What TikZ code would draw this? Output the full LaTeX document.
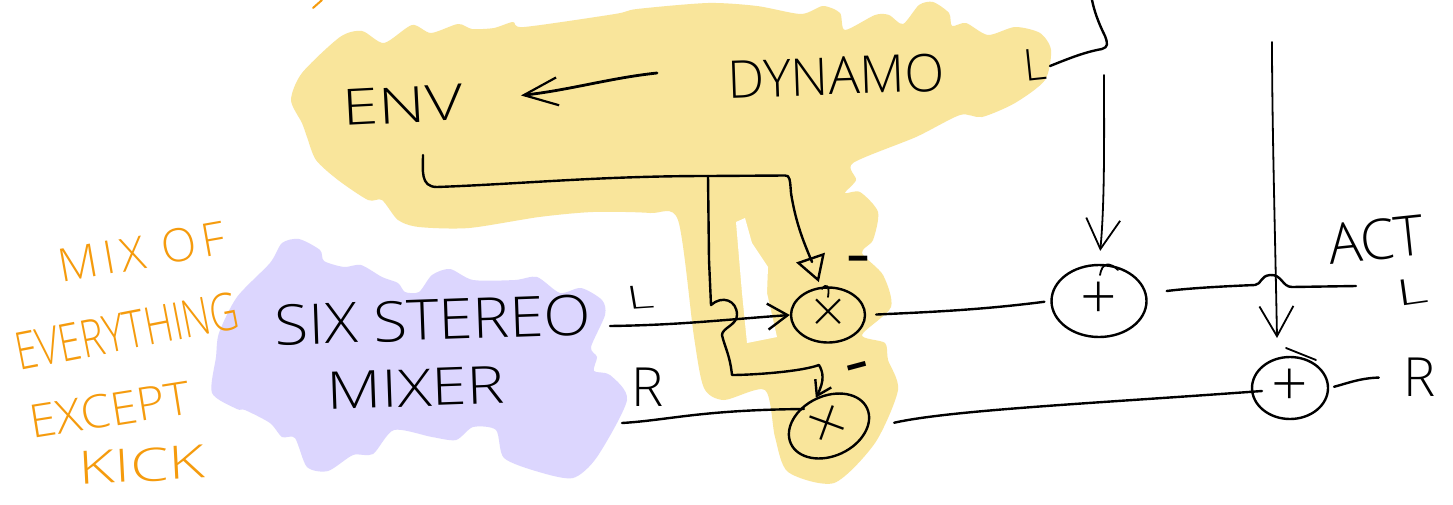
\documentclass[tikz,border=0pt]{standalone}
\usepackage{fontspec}
\setmainfont{Open Sans}[UprightFont=* Light,BoldFont=* Bold]
\usetikzlibrary{shapes.geometric,arrows.meta}
\definecolor{yel}{HTML}{F9E59B}
\definecolor{pur}{HTML}{DCD6FE}
\definecolor{org}{HTML}{F59B0D}
\newcommand\hf[1]{\fontsize{#1}{#1}\selectfont}
\tikzset{
  wire/.style={line width=2.4pt,line cap=round,line join=round,black},
  thinwire/.style={line width=1.8pt,line cap=round,line join=round,black},
  ink/.style={inner sep=0pt,text=black,transform shape},
  orangeink/.style={inner sep=0pt,text=org,transform shape},
  ring/.style={draw=black,line width=2.4pt,ellipse,inner sep=0pt,text=black},
  bighead/.style={-{Straight Barb[length=30pt,width=34pt,line width=1.8pt]}},
  midhead/.style={-{Straight Barb[length=20pt,width=26pt]}},
  smallhead/.style={-{Straight Barb[length=14pt,width=18pt]}},
  trihead/.style={-{Triangle[open,length=26pt,width=30pt]}},
}
\begin{document}
\begin{tikzpicture}[x=1pt,y=-1pt]
\useasboundingbox (0,0) rectangle (1453,504);
\fill[white] (0,0) rectangle (1453,504);
% yellow highlight
\fill[yel] plot[smooth cycle,tension=.45] coordinates {
(291,100)(302,73)(340,37)(362,31)(384,43)(412,25)(431,33)(458,24)(472,29)(494,28)(513,22)(524,27)
(615,14)(637,9)(708,3)(757,6)(801,14)(823,6)(840,13)(845,30)(875,15)(889,15)(903,24)(919,5)(933,2)
(949,13)(952,26)(966,23)(988,35)(1015,27)(1040,33)(1051,50)(1045,80)(1015,103)(982,117)(960,115)
(916,137)(853,163)(856,180)(845,193)(860,192)(878,212)(873,240)(862,253)(883,275)(891,307)(862,335)
(885,343)(888,360)(898,390)(875,443)(834,483)(788,472)(775,437)(765,390)(724,400)(704,388)(694,337)
(678,220)(650,213)(593,212)(539,217)(469,228)(419,227)(398,220)(382,200)(368,200)(338,180)(316,160)(307,137)(302,123)};
\fill[white] (736,222)--(745,218)--(752,243)--(768,267)--(767,293)--(777,337)--(747,343)--(742,293)--cycle;
% purple highlight
\fill[pur] plot[smooth cycle,tension=.45] coordinates {
(270,263)(282,243)(299,239)(320,250)(324,261)(344,267)(361,265)(382,277)(398,283)(405,292)(419,292)
(432,275)(450,269)(473,280)(515,280)(537,277)(560,293)(581,288)(602,300)(605,315)(591,347)(597,357)
(594,371)(610,375)(627,400)(597,457)(573,478)(539,472)(504,458)(496,430)(473,427)(456,440)(432,437)
(394,430)(373,454)(353,455)(328,471)(307,467)(295,438)(282,437)(270,423)(245,410)(237,409)(212,393)
(216,357)(219,333)(237,297)};
% orange notes
\node[orangeink,rotate=10] (noteA) at (142,252) {\hf{46}\addfontfeature{LetterSpace=12}MIX OF};
\node[orangeink,rotate=11,xscale=.76] (noteB) at (127,331) {\hf{52}EVERYTHING};
\node[orangeink,rotate=9,xscale=1.05] (noteC) at (110,410) {\hf{46}EXCEPT};
\node[orangeink,rotate=3,xscale=1.35] (noteD) at (142,465) {\hf{46}KICK};
\draw[org,line width=2pt,line cap=round] (322,0)--(313,8);
% black labels
\node[ink,rotate=3,xscale=1.3] (env) at (403,105) {\hf{50}ENV};
\node[ink,rotate=2,xscale=1.0] (dyn) at (836,76) {\hf{52}DYNAMO};
\node[ink,rotate=6] (dynL) at (1035,65) {\hf{44}L};
\node[ink,rotate=2,xscale=1.1] (six) at (433,320) {\hf{56}SIX STEREO};
\node[ink,rotate=2,xscale=1.22] (mixer) at (416,388) {\hf{52}MIXER};
\node[ink,xscale=1.6,rotate=6] (inL) at (640,297) {\hf{32}L};
\node[ink] (inR) at (648,387) {\hf{54}R};
\node[ink,rotate=6] (act) at (1376,240) {\hf{56}ACT};
\node[ink,rotate=8,xscale=1.7] (outL) at (1412,292) {\hf{36}L};
\node[ink] (outR) at (1420,377) {\hf{54}R};
\node[ink] (minA) at (858,263) {\hf{44}\bfseries –};
\node[ink,rotate=15] (minB) at (858,371) {\hf{44}\bfseries –};
% operators
\node[ring,minimum width=74pt,minimum height=55pt] (m1) at (828,315) {\hf{56}×};
\node[ring,minimum width=84pt,minimum height=60pt,rotate=25] (m2) at (829,426) {\hf{60}×};
\node[ring,minimum width=95pt,minimum height=72pt] (p1) at (1099,301) {\hf{64}+};
\node[ring,minimum width=76pt,minimum height=62pt] (p2) at (1290,388) {\hf{64}+};
% overshoot ticks on the rings
\draw[thinwire] (822,289) .. controls (826,283) and (830,285) .. (828,297);
\draw[thinwire] (1100,275) .. controls (1102,262) and (1110,262) .. (1118,270);
\draw[thinwire] (1286,348) -- (1316,360);
% free ends
\coordinate (topA) at (1092,0);
\coordinate (fromA) at (1104,75);
\coordinate (fromB) at (1272,42);
\coordinate (sendL) at (1356,286);
\coordinate (inLs) at (610,326);
\coordinate (inRs) at (622,423);
\coordinate (envOut) at (423,155);
\coordinate (bus) at (708,176);
\coordinate (toArrowStart) at (657,73);
% connectors
\draw[wire,line width=2.8pt,shorten >=58pt,-{Straight Barb[length=34pt,width=28pt,line width=2.2pt]}] (toArrowStart) .. controls (610,78) and (570,90) .. (env.east);
\draw[wire] (1050,66) .. controls (1070,58) and (1085,52) .. (1102,49) .. controls (1108,47) and (1108,44) .. (1105,36) .. controls (1098,22) and (1094,10) .. (topA);
\draw[thinwire,bighead,shorten >=13pt] (fromA) .. controls (1104,130) and (1105,200) .. (p1.north);
\draw[thinwire,bighead] (fromB) .. controls (1272,120) and (1275,230) .. (1277,338);
\draw[wire] (p1.east) ++(19,-10) .. controls (1190,288) and (1230,286) .. (1255,285)
  .. controls (1262,284) and (1260,276) .. (1270,275) .. controls (1282,274) and (1282,287) .. (1292,287) -- (sendL);
\draw[wire,shorten <=5pt,shorten >=25pt] (p2.east) .. controls (1345,384) and (1360,378) .. (outR.west);
\draw[wire,shorten <=10pt,shorten >=6pt] (m1.east) .. controls (930,312) and (980,310) .. (p1.west);
\draw[wire] (m2.east) ++(26,15) .. controls (950,410) and (1100,403) .. (1262,391);
\draw[wire] (inRs) .. controls (670,420) and (700,410) .. (804,409);
\draw[wire,midhead] (inLs) .. controls (680,325) and (720,320) .. (m1.west);
\draw[wire,trihead,shorten >=5pt] (envOut) .. controls (423,170) and (420,187) .. (437,187) .. controls (520,184) and (600,176) .. (bus) -- (785,175.5) .. controls (790,175) and (790,180) .. (791,193) .. controls (796,225) and (805,245) .. (812,262) -- (m1.105);
\draw[wire,smallhead] (bus) -- (709,260) -- (711,305) .. controls (722,295) and (737,300) .. (737,315) .. controls (737,325) and (722,328) .. (722,335)
  .. controls (724,345) and (730,355) .. (732,375) .. controls (750,375) and (800,372) .. (819,365) .. controls (823,372) and (825,380) .. (m2.north);
\end{tikzpicture}
\end{document}
